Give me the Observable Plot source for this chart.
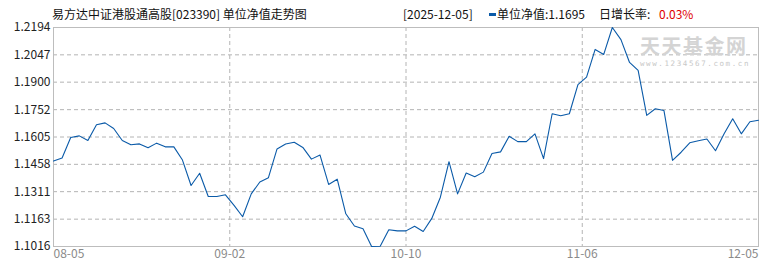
<!DOCTYPE html>
<html>
<head>
<meta charset="utf-8">
<script src="https://cdn.jsdelivr.net/npm/d3@7"></script>
<script src="https://cdn.jsdelivr.net/npm/@observablehq/plot@0.6"></script>
<style>
  html, body { margin: 0; padding: 0; background: #fff; }
  #wrap { position: relative; width: 770px; height: 270px; font-family: "Noto Sans CJK SC", sans-serif; }
  .hdr { position: absolute; top: 6px; font-size: 12px; line-height: 16px; color: #111; white-space: nowrap; }
  .wm1 { position: absolute; left: 640px; top: 36px; font-size: 20px; line-height: 20px; height: 20px; overflow: visible; font-weight: bold; color: #d4d4d4; letter-spacing: 1.5px; white-space: nowrap; }
  .wm2 { position: absolute; left: 640px; top: 60px; font-size: 7.5px; line-height: 8px; color: #c8c8c8; letter-spacing: 1.6px; font-family: "DejaVu Sans Mono", monospace; white-space: nowrap; }
</style>
</head>
<body>
<div id="wrap"></div>
<script>
const title = "易方达中证港股通高股[023390] 单位净值走势图";
const lastDate = "2025-12-05";
const lastNav = "1.1695";
const dailyGrowth = "0.03%";

const navValues = [
  1.1476, 1.1492, 1.1602, 1.1611, 1.1586, 1.1671, 1.1681, 1.1651, 1.1586, 1.1563,
  1.1568, 1.1547, 1.1572, 1.1552, 1.1552, 1.1481, 1.1344, 1.1410, 1.1285, 1.1285,
  1.1294, 1.1237, 1.1176, 1.1299, 1.1363, 1.1386, 1.1541, 1.1567, 1.1577, 1.1549,
  1.1486, 1.1508, 1.1350, 1.1378, 1.1192, 1.1126, 1.1111, 1.1016, 1.1017, 1.1106,
  1.1100, 1.1100, 1.1125, 1.1097, 1.1167, 1.1281, 1.1472, 1.1299, 1.1411, 1.1391,
  1.1416, 1.1516, 1.1525, 1.1609, 1.1580, 1.1580, 1.1622, 1.1489, 1.1730, 1.1719,
  1.1730, 1.1887, 1.1927, 1.2076, 1.2049, 1.2194, 1.2129, 1.2006, 1.1963, 1.1721,
  1.1757, 1.1748, 1.1479, 1.1523, 1.1574, 1.1585, 1.1594, 1.1531, 1.1622, 1.1703,
  1.1622, 1.1687, 1.1695
];

const yTicks = [1.1016, 1.1163, 1.1311, 1.1458, 1.1605, 1.1752, 1.1900, 1.2047, 1.2194];
const xTickLabels = ["08-05", "09-02", "10-10", "11-06", "12-05"];

const N = navValues.length;
const series = navValues.map((v, i) => ({i, v}));
const xTicks = xTickLabels.map((label, k) => ({label, pos: (N - 1) * k / (xTickLabels.length - 1)}));

const chart = Plot.plot({
  width: 770,
  height: 270,
  marginLeft: 53,
  marginRight: 12,
  marginTop: 27,
  marginBottom: 24,
  style: {fontFamily: "'Noto Sans CJK SC', sans-serif", background: "#fff", overflow: "visible"},
  x: {domain: [0, N - 1], axis: null},
  y: {domain: [yTicks[0], yTicks[yTicks.length - 1]], axis: null},
  marks: [
    Plot.gridY(yTicks.slice(1, -1), {stroke: "#b4b4b4", strokeOpacity: 1, strokeDasharray: "4,3"}),
    Plot.gridX(xTicks.slice(1, -1).map(d => d.pos), {stroke: "#b4b4b4", strokeOpacity: 1, strokeDasharray: "4,3"}),
    Plot.frame({stroke: "#bdbdbd"}),
    Plot.line(series, {x: "i", y: "v", stroke: "#0a5aa8", strokeWidth: 1.1}),
    Plot.axisY(yTicks, {tickSize: 0, tickPadding: 3, label: null, tickFormat: d => d.toFixed(4), fontSize: 12, fill: "#222"}),
    Plot.text(xTicks.slice(0, 1), {x: "pos", text: "label", frameAnchor: "bottom", dy: 11, textAnchor: "start", fontSize: 12, fill: "#8a8a8a"}),
    Plot.text(xTicks.slice(1, -1), {x: "pos", text: "label", frameAnchor: "bottom", dy: 11, textAnchor: "middle", fontSize: 12, fill: "#8a8a8a"}),
    Plot.text(xTicks.slice(-1), {x: "pos", text: "label", frameAnchor: "bottom", dy: 11, textAnchor: "end", fontSize: 12, fill: "#8a8a8a"})
  ]
});

const wrap = document.getElementById("wrap");
wrap.appendChild(chart);

function addDiv(cls, left, html) {
  const d = document.createElement("div");
  d.className = cls;
  if (left !== null) d.style.left = left + "px";
  d.innerHTML = html;
  wrap.appendChild(d);
}
addDiv("hdr", 52, title);
addDiv("hdr", 403, "[" + lastDate + "]");
addDiv("hdr", 489, '<span style="display:inline-block;width:7px;height:3px;background:#0a5aa8;vertical-align:middle;margin-right:1px;position:relative;top:-1px"></span>单位净值:' + lastNav);
addDiv("hdr", 599, '日增长率: <span style="color:#e00000;margin-left:6px">' + dailyGrowth + '</span>');
addDiv("wm1", null, "天天基金网");
addDiv("wm2", null, "www.1234567.com.cn");
</script>
</body>
</html>
